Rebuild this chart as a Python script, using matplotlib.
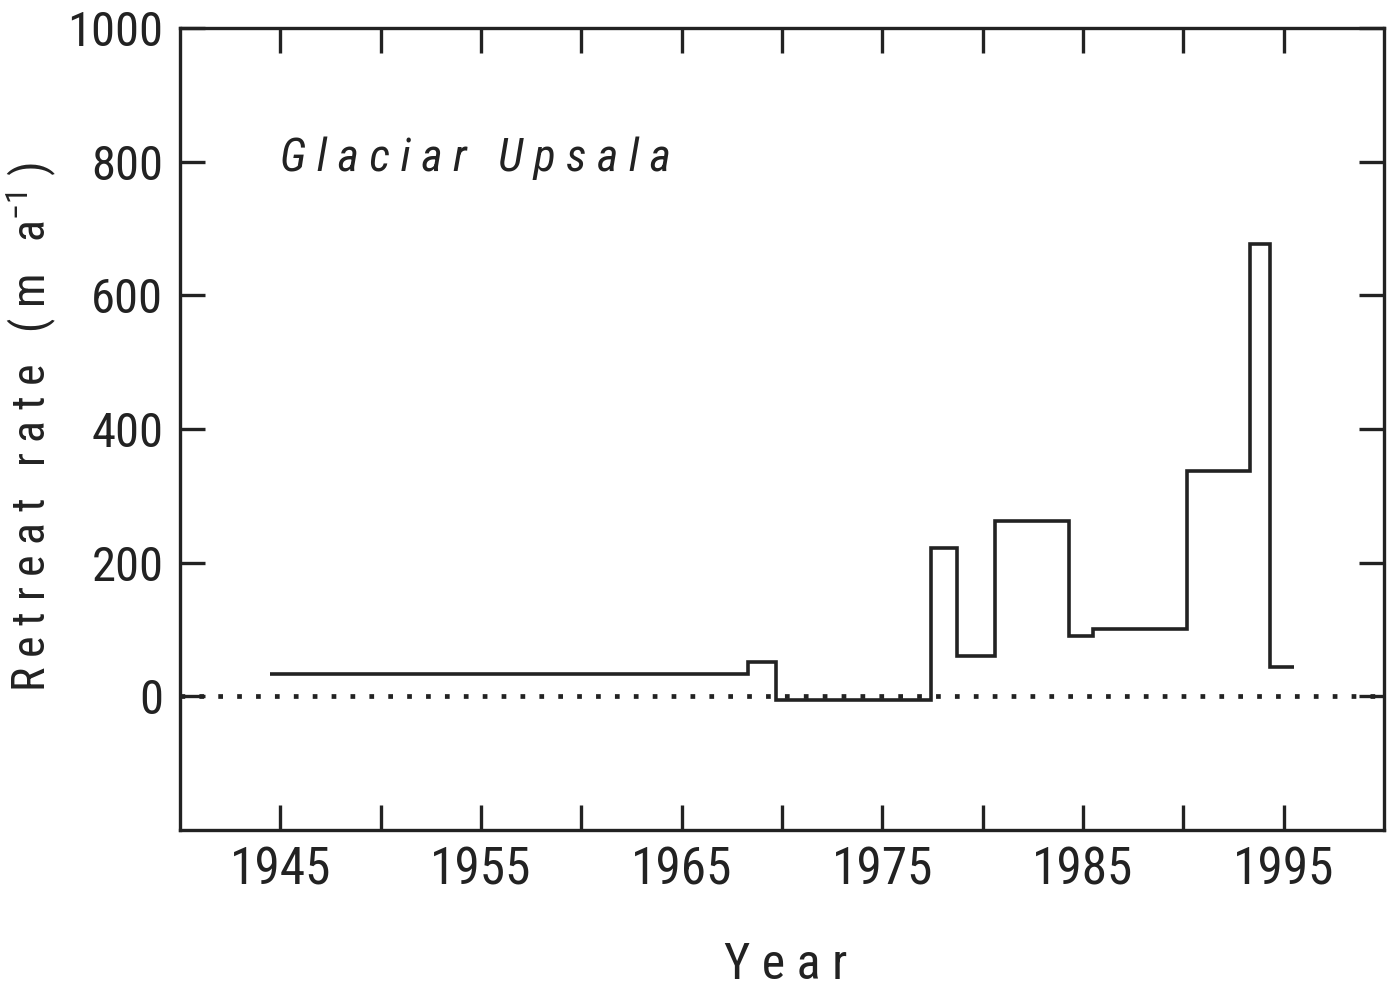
import matplotlib
matplotlib.use("Agg")
import matplotlib.pyplot as plt
from matplotlib import font_manager
from matplotlib.ticker import FixedLocator

# look for a narrow sans font, otherwise Liberation Sans
fonts = font_manager.fontManager.ttflist
narrow = [f.name for f in fonts if f.name in ("Liberation Sans Narrow", "Roboto Condensed",
                                               "Open Sans Condensed")]
dejavu_cond = any(f.name == "DejaVu Sans" and f.stretch == "condensed" for f in fonts)
if narrow:
    family, stretch = narrow[0], "normal"
elif dejavu_cond:
    family, stretch = "DejaVu Sans", "condensed"
else:
    family, stretch = "Liberation Sans", "normal"

plt.rcParams['font.family'] = [family, 'DejaVu Sans']
plt.rcParams['font.stretch'] = stretch
plt.rcParams['mathtext.fontset'] = 'custom'
plt.rcParams['mathtext.rm'] = family

# step edges (years) and retreat rate in each interval (m/a)
year_edges = [1944.5, 1968.3, 1969.7, 1977.4, 1978.7, 1980.6, 1984.3,
              1985.5, 1990.2, 1993.3, 1994.3, 1995.5]
retreat_rate = [33, 52, -5, 222, 61, 263, 90, 101, 337, 677, 44]

xtick_labels = ["1945", "1955", "1965", "1975", "1985", "1995"]

fig = plt.figure(figsize=(14, 9.96), dpi=100)
ax = fig.add_axes([0.1286, 0.1667, 0.860, 0.8052])

ax.stairs(retreat_rate, year_edges, baseline=None, color="#222222", lw=2.6)
ax.axhline(0, color="#222222", lw=3.4, linestyle=(0, (1, 3.0)))

ax.set_xlim(1940, 2000)
ax.set_ylim(-200, 1000)

ax.xaxis.set_major_locator(FixedLocator([1945, 1955, 1965, 1975, 1985, 1995]))
ax.xaxis.set_minor_locator(FixedLocator([1950, 1960, 1970, 1980, 1990]))
ax.set_xticklabels(xtick_labels)
ax.yaxis.set_major_locator(FixedLocator([0, 200, 400, 600, 800, 1000]))

ax.tick_params(which="both", direction="in", length=18, width=2.4,
               top=True, right=True, color="#222222")
ax.tick_params(axis="x", labelsize=37, pad=11, labelcolor="#222222")
ax.tick_params(axis="y", labelsize=35, pad=12, labelcolor="#222222")

for s in ax.spines.values():
    s.set_linewidth(2.4)
    s.set_color("#222222")

ax.text(0.083, 0.837, "G l a c i a r   U p s a l a", transform=ax.transAxes,
        fontsize=33, style="italic", color="#222222", ha="left", va="center")

fig.text(0.561, 0.031, "Y e a r", fontsize=36, ha="center", va="center",
         color="#222222")
fig.text(0.022, 0.571, "R e t r e a t   r a t e   ( m   a$^{-1}$ )",
         fontsize=33, rotation=90, ha="center", va="center", color="#222222")

fig.savefig("out.png", dpi=100, facecolor="white")
